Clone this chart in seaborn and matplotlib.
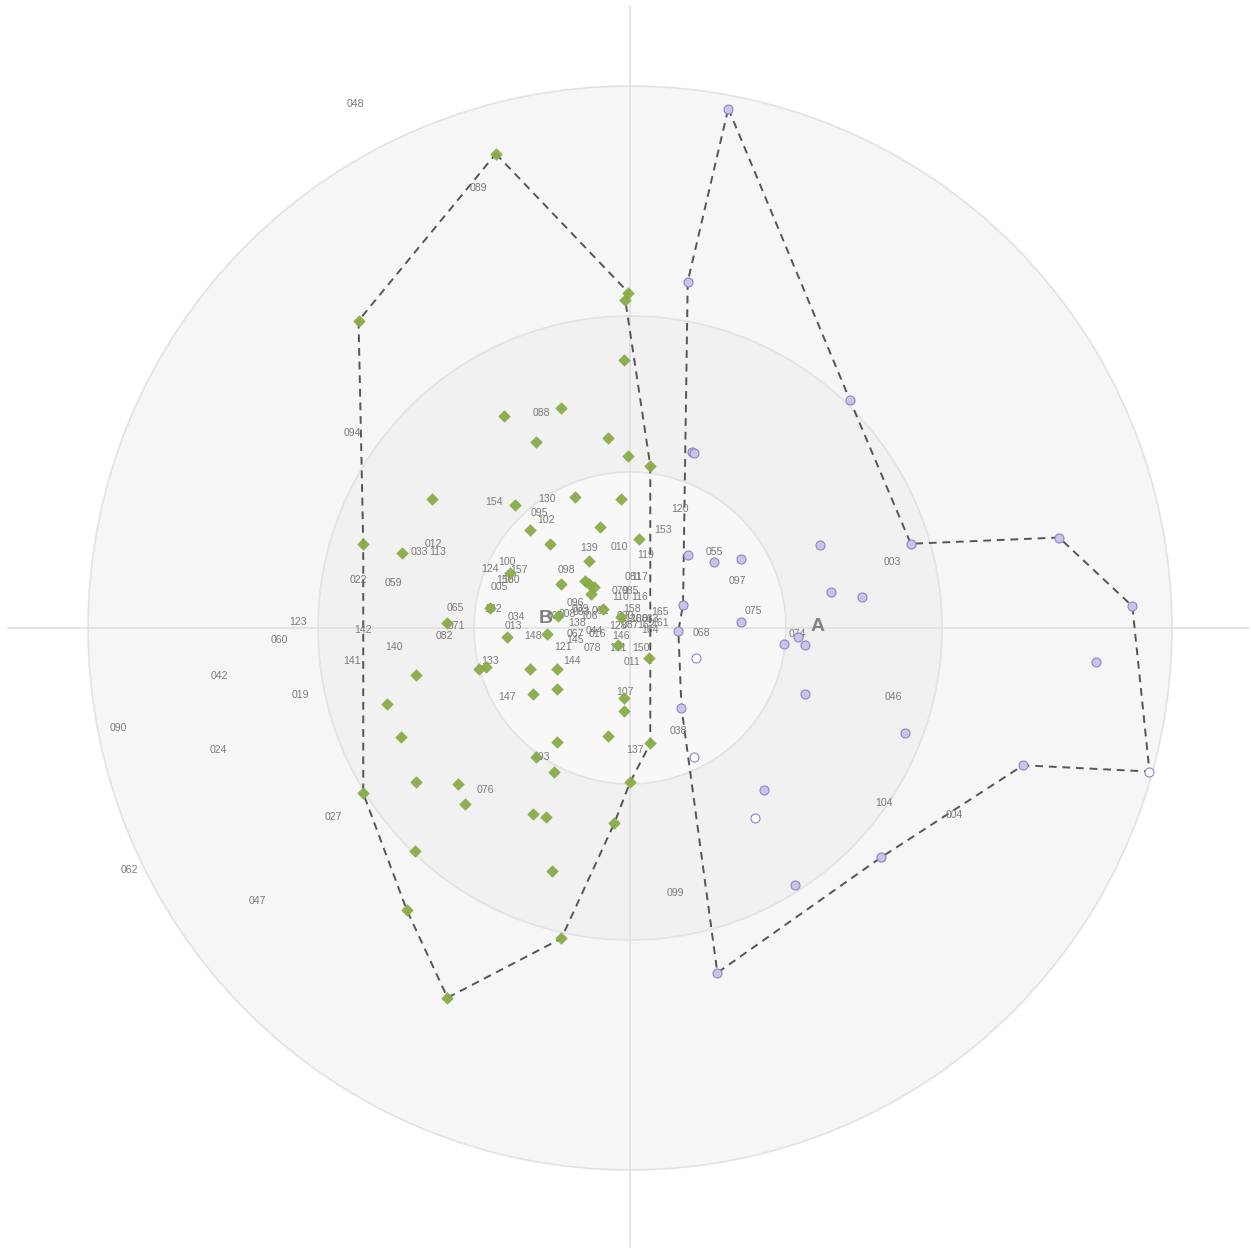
import numpy as np
import pandas as pd
import matplotlib
matplotlib.use("Agg")
import matplotlib.pyplot as plt
from matplotlib.patches import Circle
import seaborn as sns

sns.set_theme(style="white")
plt.rcParams["font.family"] = ["Liberation Sans", "DejaVu Sans"]

# ---- group B scores (green diamonds) ----
b_x = [-0.86, -0.01, -0.03, -0.04, -1.74, -0.81, -0.44, -0.60, -0.14, -0.01,
       0.13, -1.27, -0.74, -0.35, -0.06, -0.19, -0.64, -0.51, 0.06, -1.71,
       -1.46, -0.26, -0.77, -0.44, -0.29, -0.26, -0.23, -0.25, -0.90, -0.46,
       -0.17, -0.06, -1.17, -0.53, -0.79, 0.12, -0.08, -1.37, -0.97, -0.92,
       -0.64, -0.47, -0.47, -0.62, -0.04, -0.04, -1.56, -1.47, -0.47, -0.14,
       0.13, -0.60, -0.49, -1.37, -1.10, -1.06, 0.00, -0.62, -0.54, -0.10,
       -1.71, -1.38, -0.50, -1.43, -0.44, -1.17]
b_y = [3.04, 2.15, 2.10, 1.72, 1.97, 1.36, 1.41, 1.19, 1.22, 1.10,
       1.04, 0.83, 0.79, 0.84, 0.83, 0.65, 0.63, 0.54, 0.57, 0.54,
       0.48, 0.43, 0.35, 0.28, 0.30, 0.28, 0.26, 0.22, 0.13, 0.08,
       0.12, 0.07, 0.03, -0.04, -0.06, -0.19, -0.11, -0.30, -0.26, -0.25,
       -0.26, -0.26, -0.39, -0.42, -0.45, -0.53, -0.49, -0.70, -0.73, -0.69,
       -0.74, -0.83, -0.92, -0.99, -1.00, -1.13, -0.99, -1.19, -1.21, -1.25,
       -1.06, -1.43, -1.56, -1.81, -1.99, -2.37]
# outline of group B (indices into b_x / b_y)
b_outline = [0, 1, 2, 10, 50, 56, 59, 64, 65, 63, 60, 19, 4, 0]

# ---- group A scores (purple circles) ----
a_x = [0.63, 0.37, 1.41, 0.40, 0.41, 1.80, 2.75, 3.22, 3.33, 2.52,
       1.61, 0.56, 0.33, 0.31, 1.22, 0.37, 0.54, 0.71, 1.29, 1.49,
       0.34, 0.71, 0.99, 1.08, 1.12, 0.42, 1.12, 1.76, 0.41, 0.86,
       0.80, 2.99, 1.06]
a_y = [3.33, 2.22, 1.46, 1.13, 1.12, 0.54, 0.58, 0.14, -0.92, -0.88,
       -1.47, -2.21, -0.51, -0.02, 0.53, 0.47, 0.42, 0.44, 0.23, 0.20,
       0.15, 0.04, -0.10, -0.06, -0.11, -0.19, -0.42, -0.67, -0.83, -1.04,
       -1.22, -0.22, -1.65]
a_open = [0, 0, 0, 0, 0, 0, 0, 0, 1, 0,
          0, 0, 0, 0, 0, 0, 0, 0, 0, 0,
          0, 0, 0, 0, 0, 1, 0, 0, 1, 0,
          1, 0, 0]
a_outline = [0, 2, 5, 6, 7, 8, 9, 10, 11, 12, 13, 20, 1, 0]

# ---- sample identifiers ----
lab_text = ["048", "089", "094", "088", "154", "130", "095", "102", "120", "153",
            "012", "033", "113", "139", "010", "119", "055", "003", "100", "124",
            "157", "022", "059", "098", "097", "150", "160", "005", "081", "117",
            "079", "085", "110", "116", "065", "132", "096", "039", "034", "158",
            "165", "075", "123", "013", "071", "142", "138", "128", "068", "074",
            "082", "148", "067", "044", "016", "146", "164", "161", "060", "140",
            "145", "121", "078", "101", "150", "141", "144", "011", "133", "042",
            "019", "147", "107", "046", "090", "038", "024", "137", "103", "076",
            "104", "004", "027", "062", "099", "047", "009", "008", "083", "106",
            "061", "020", "126", "108", "063", "087", "162"]
lab_x = [-1.76, -0.97, -1.78, -0.57, -0.87, -0.53, -0.58, -0.54, 0.32, 0.21,
         -1.26, -1.35, -1.23, -0.26, -0.07, 0.10, 0.54, 1.68, -0.79, -0.90,
         -0.71, -1.74, -1.52, -0.41, 0.69, -0.80, -0.76, -0.84, 0.02, 0.06,
         -0.06, 0.00, -0.06, 0.06, -1.12, -0.88, -0.35, -0.32, -0.73, 0.01,
         0.19, 0.79, -2.13, -0.75, -1.11, -1.71, -0.34, -0.08, 0.46, 1.07,
         -1.19, -0.62, -0.35, -0.23, -0.21, -0.06, 0.13, 0.19, -2.25, -1.51,
         -0.35, -0.43, -0.24, -0.08, 0.07, -1.78, -0.37, 0.01, -0.90, -2.63,
         -2.11, -0.79, -0.03, 1.69, -3.28, 0.31, -2.64, 0.03, -0.57, -0.93,
         1.63, 2.08, -1.90, -3.21, 0.29, -2.39, -0.48, -0.40, -0.31, -0.26,
         -0.19, -0.03, 0.02, 0.06, 0.13, 0.00, 0.10]
lab_y = [3.36, 2.82, 1.25, 1.38, 0.81, 0.83, 0.74, 0.69, 0.76, 0.63,
         0.54, 0.49, 0.49, 0.51, 0.52, 0.47, 0.49, 0.42, 0.42, 0.38,
         0.37, 0.31, 0.29, 0.37, 0.30, 0.31, 0.31, 0.26, 0.33, 0.33,
         0.24, 0.24, 0.20, 0.20, 0.13, 0.12, 0.16, 0.12, 0.07, 0.12,
         0.10, 0.11, 0.04, 0.01, 0.01, -0.01, 0.03, 0.01, -0.03, -0.04,
         -0.05, -0.05, -0.04, -0.02, -0.04, -0.05, -0.01, 0.03, -0.08, -0.12,
         -0.08, -0.12, -0.13, -0.13, -0.13, -0.21, -0.21, -0.22, -0.21, -0.31,
         -0.43, -0.44, -0.41, -0.44, -0.64, -0.66, -0.78, -0.78, -0.83, -1.04,
         -1.12, -1.20, -1.21, -1.55, -1.70, -1.75, 0.08, 0.09, 0.10, 0.08,
         0.11, 0.08, 0.06, 0.06, 0.06, 0.02, 0.02]

# group centroids
grp_names = ["A", "B"]
grp_x = [1.20, -0.54]
grp_y = [0.01, 0.06]

# reference rings
ring_radius = [3.474, 2.0, 1.0]
ring_fill = ["#f6f6f6", "#f1f1f1", "#f8f8f8"]

GREEN = "#8aab47"
PURPLE_FILL = "#cbc3ea"
PURPLE_EDGE = "#8f84c4"

pts = pd.concat([
    pd.DataFrame({"x": b_x, "y": b_y, "group": "B", "open": 0}),
    pd.DataFrame({"x": a_x, "y": a_y, "group": "A", "open": a_open}),
], ignore_index=True)

fig = plt.figure(figsize=(12.51, 12.49), dpi=100)
ax = fig.add_axes([0, 0, 1, 1])
ax.set_xlim(-630 / 156, 621 / 156)
ax.set_ylim(-621 / 156, 628 / 156)
ax.set_aspect("equal")
ax.axis("off")

for r, fc in zip(ring_radius, ring_fill):
    ax.add_patch(Circle((0, 0), r, facecolor=fc, edgecolor="#e2e2e2",
                        linewidth=1.2, zorder=0))

ax.plot([-3.99, 3.97], [0, 0], color="#e0e0e0", lw=1.2, zorder=1)
ax.plot([0, 0], [-3.97, 3.99], color="#e0e0e0", lw=1.2, zorder=1)

# group outlines
for xs, ys, idx in [(b_x, b_y, b_outline), (a_x, a_y, a_outline)]:
    ax.plot([xs[i] for i in idx], [ys[i] for i in idx], color="#555555",
            lw=1.4, ls=(0, (4, 3)), zorder=2)

# labels
for t, x, y in zip(lab_text, lab_x, lab_y):
    ax.text(x, y, t, ha="center", va="center", fontsize=7.6,
            color="#7a7a7a", zorder=3)

for n, x, y in zip(grp_names, grp_x, grp_y):
    ax.text(x, y, n, ha="center", va="center", fontsize=14,
            fontweight="bold", color="#808080", zorder=3)

sns.scatterplot(data=pts[pts.group == "B"], x="x", y="y", marker="D",
                s=34, color=GREEN, edgecolor=GREEN, linewidth=0.5,
                alpha=0.95, ax=ax, zorder=4, legend=False)
sns.scatterplot(data=pts[(pts.group == "A") & (pts.open == 0)], x="x", y="y",
                marker="o", s=42, color=PURPLE_FILL, edgecolor=PURPLE_EDGE,
                linewidth=0.8, ax=ax, zorder=4, legend=False)
sns.scatterplot(data=pts[(pts.group == "A") & (pts.open == 1)], x="x", y="y",
                marker="o", s=42, color="white", edgecolor=PURPLE_EDGE,
                linewidth=0.8, ax=ax, zorder=4, legend=False)

ax.set_xlabel("")
ax.set_ylabel("")
fig.savefig("out.png", dpi=100, facecolor="white")
